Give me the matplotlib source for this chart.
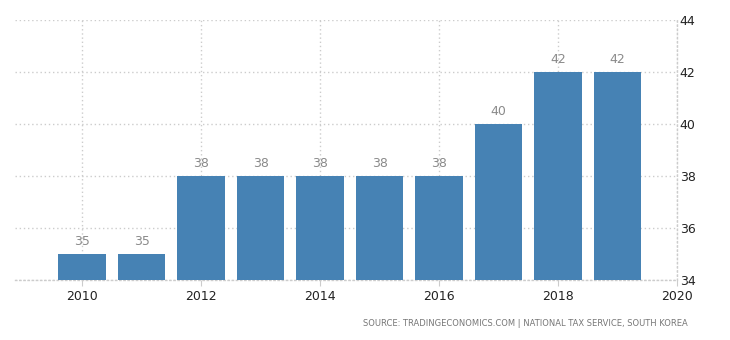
import matplotlib
matplotlib.use("Agg")
import matplotlib.pyplot as plt

years = [2010, 2011, 2012, 2013, 2014, 2015, 2016, 2017, 2018, 2019]
rates = [35, 35, 38, 38, 38, 38, 38, 40, 42, 42]
x_ticks = [2010, 2012, 2014, 2016, 2018, 2020]
y_ticks = [34, 36, 38, 40, 42, 44]
source = "SOURCE: TRADINGECONOMICS.COM | NATIONAL TAX SERVICE, SOUTH KOREA"

bar_color = "#4682b4"
grid_color = "#cccccc"

fig = plt.figure(figsize=(7.3, 3.4), dpi=100)
ax = fig.add_axes([15 / 730, 1 - 280 / 340, 662 / 730, 260 / 340])

ax.bar(years, [r - 34 for r in rates], bottom=34, width=0.8, color=bar_color, zorder=3)
for x, r in zip(years, rates):
    ax.text(x, r + 0.25, f"{r}", ha="center", va="bottom", fontsize=9,
            color="#8a8a8a", family="DejaVu Sans")

ax.set_xlim(2008.87, 2020.0)
ax.set_ylim(34, 44)
ax.set_xticks(x_ticks)
ax.set_yticks(y_ticks)
ax.yaxis.tick_right()
ax.tick_params(axis="y", length=0, pad=2, labelsize=9, labelcolor="#222222")
ax.tick_params(axis="x", length=4, color=grid_color, pad=3, labelsize=9, labelcolor="#222222")

ax.grid(True, color=grid_color, linestyle=(0, (1, 2)), linewidth=1, zorder=0)
for side in ["top", "left"]:
    ax.spines[side].set_visible(False)
for side in ["bottom", "right"]:
    ax.spines[side].set_color(grid_color)
    ax.spines[side].set_linestyle((0, (1, 2)))
    ax.spines[side].set_linewidth(1)

fig.text(688 / 730, 1 - 323 / 340, source, ha="right", va="center",
         fontsize=6.0, color="#777777", family="DejaVu Sans")

fig.savefig("out.png", dpi=100)
